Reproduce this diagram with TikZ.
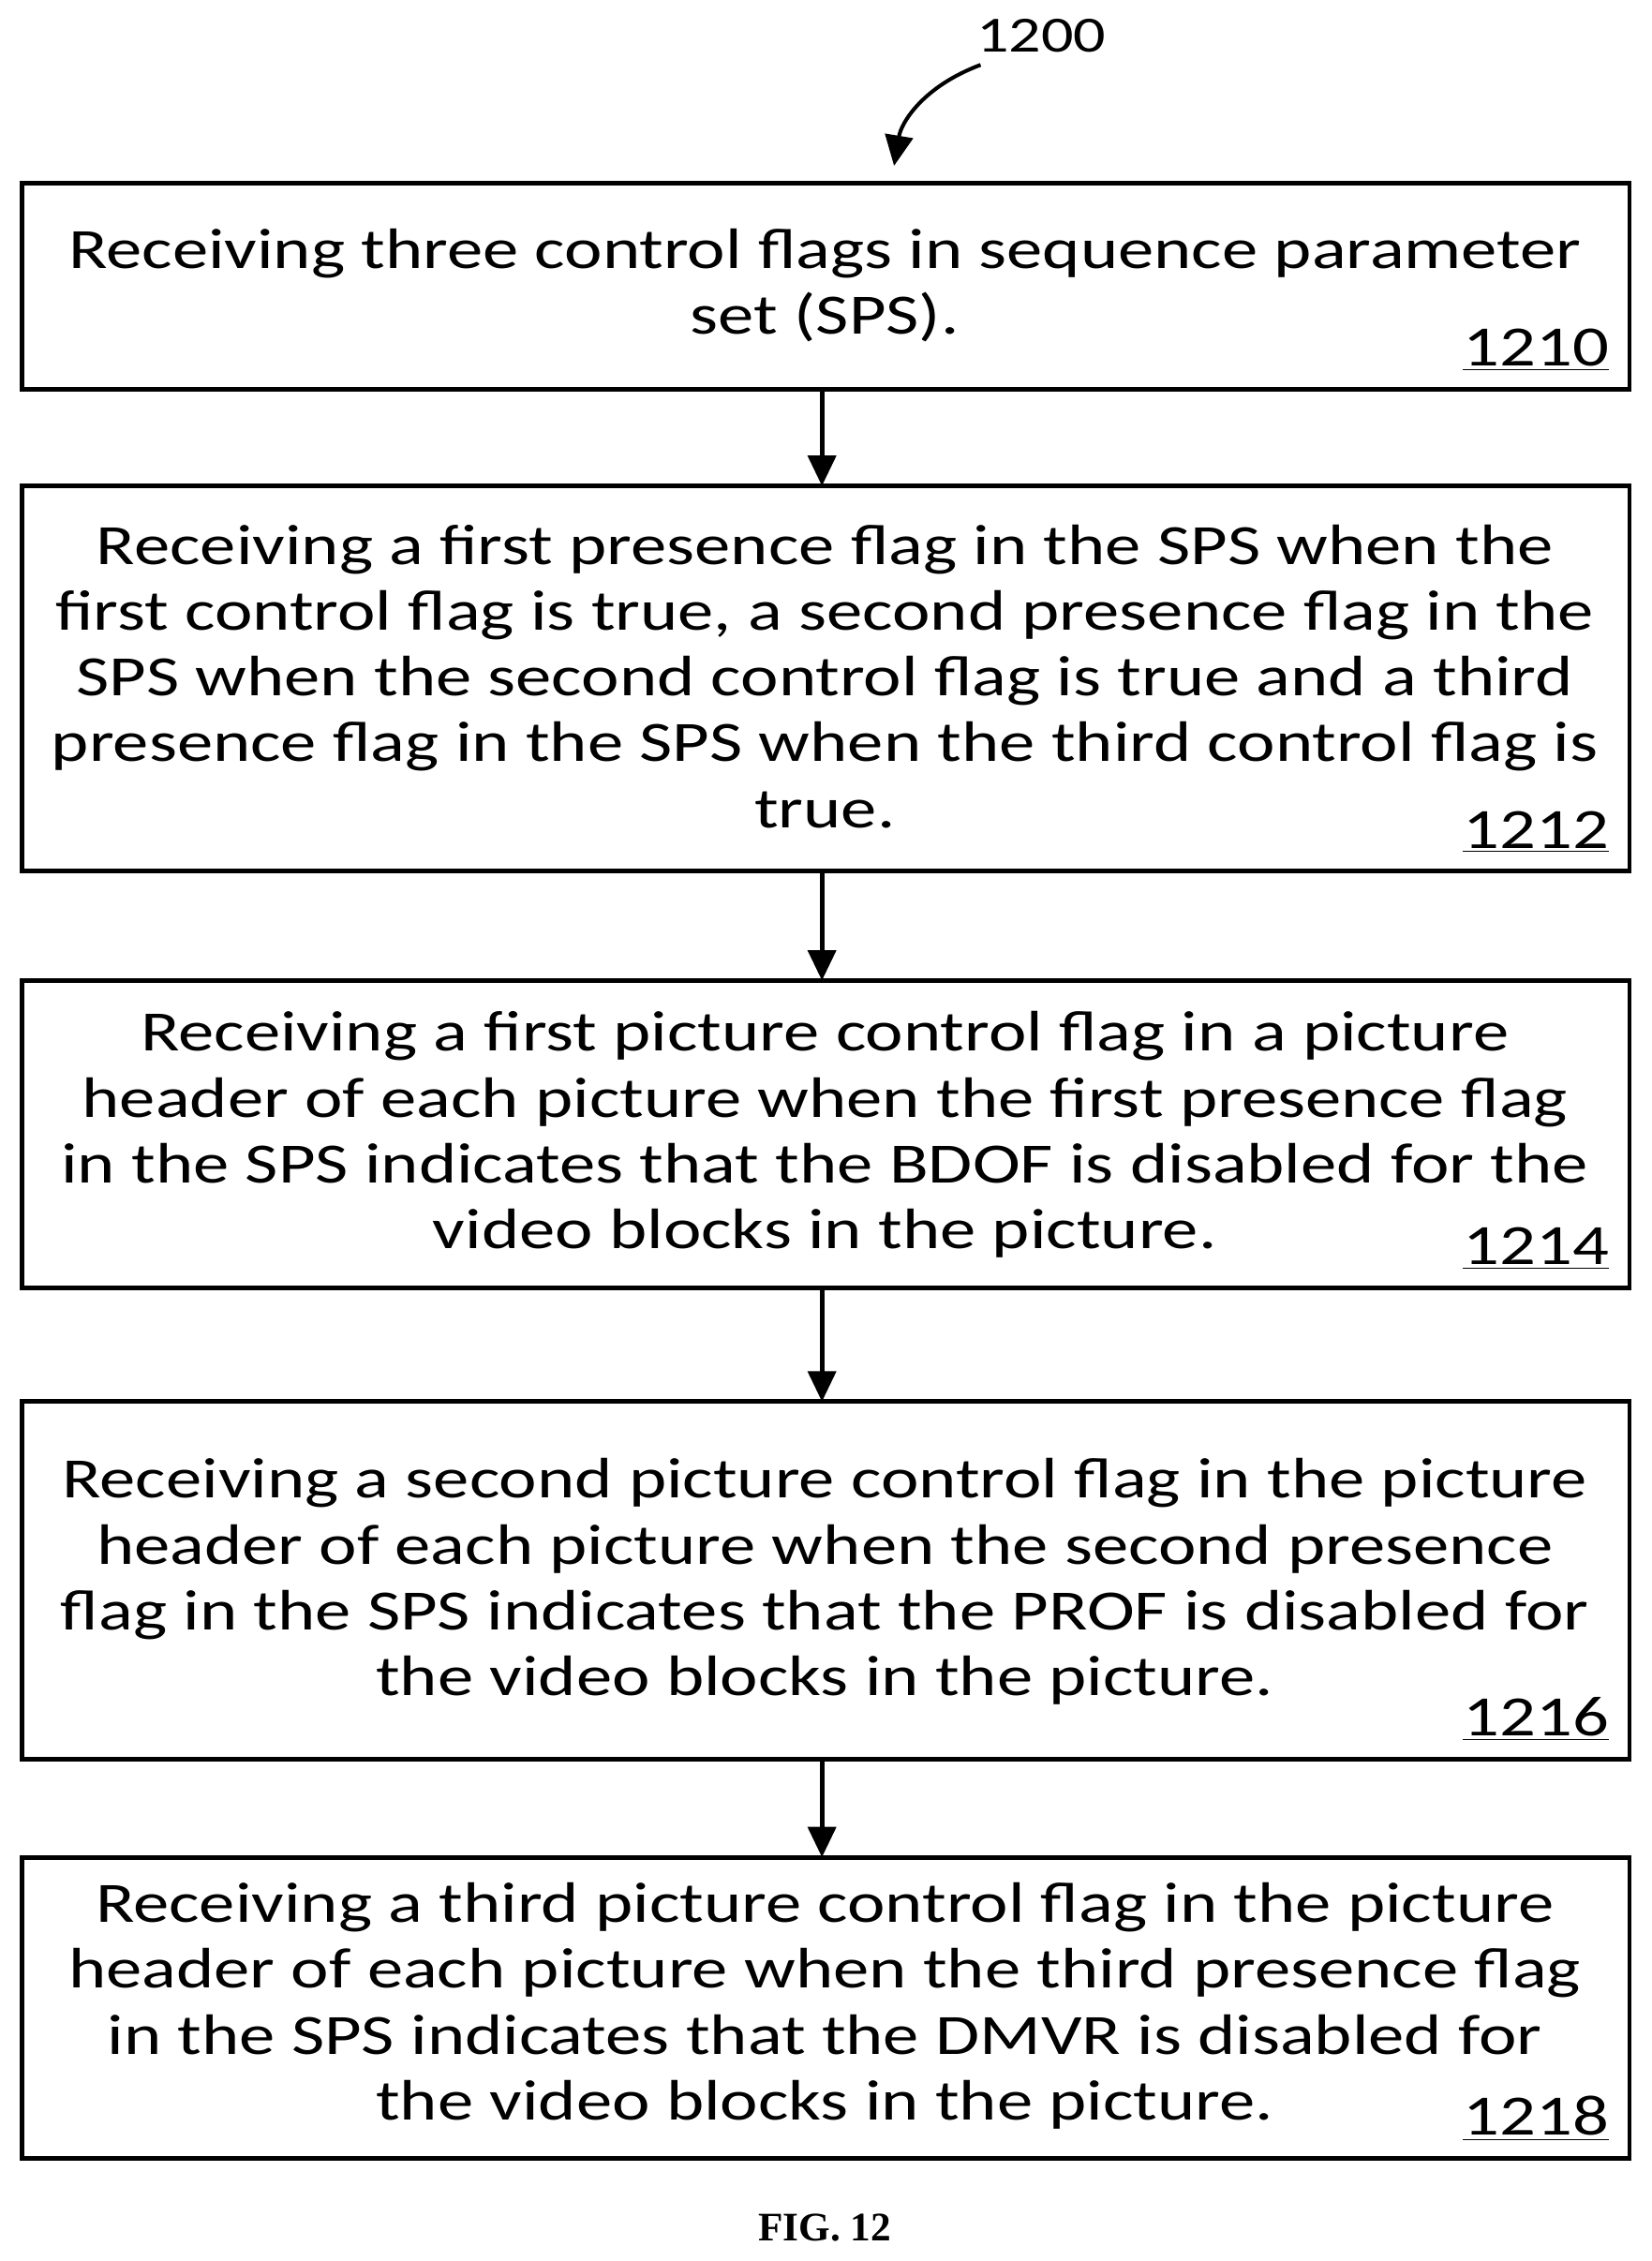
\documentclass[tikz,border=0pt]{standalone}
\usepackage{fontspec}
\setmainfont{Carlito}[FakeStretch=1.26]
\usetikzlibrary{arrows.meta}
\begin{document}
\begin{tikzpicture}[x=0.02cm,y=-0.02cm,
  stepbox/.style={draw,line width=1.8pt},
  txt/.style={align=center,font=\fontsize{22.5}{26}\selectfont,inner sep=0},
  lbl/.style={anchor=south east,font=\fontsize{22.5}{26}\selectfont,inner sep=0},
  arr/.style={-{Triangle[length=12pt,width=11pt]},line width=1.8pt}]
\useasboundingbox (0,0) rectangle (1145,1568);
\draw[stepbox] (15,127) rectangle (1130,270);
\draw[stepbox] (15,337) rectangle (1130,604);
\draw[stepbox] (15,680) rectangle (1130,893);
\draw[stepbox] (15,972) rectangle (1130,1220);
\draw[stepbox] (15,1288) rectangle (1130,1497);
\node[txt] (t1) at (572,198) {Receiving three control flags in sequence parameter\\set (SPS).};
\node[txt] (t2) at (572,469) {Receiving a first presence flag in the SPS when the\\first control flag is true, a second presence flag in the\\SPS when the second control flag is true and a third\\presence flag in the SPS when the third control flag is\\true.};
\node[txt] (t3) at (572,787) {Receiving a first picture control flag in a picture\\header of each picture when the first presence flag\\in the SPS indicates that the BDOF is disabled for the\\video blocks in the picture.};
\node[txt] (t4) at (572,1097) {Receiving a second picture control flag in the picture\\header of each picture when the second presence\\flag in the SPS indicates that the PROF is disabled for\\the video blocks in the picture.};
\node[txt] (t5) at (572,1391) {Receiving a third picture control flag in the picture\\header of each picture when the third presence flag\\in the SPS indicates that the DMVR is disabled for\\the video blocks in the picture.};
\node[lbl] (l1) at (1116,258) {\underline{1210}};
\node[lbl] (l2) at (1116,592) {\underline{1212}};
\node[lbl] (l3) at (1116,881) {\underline{1214}};
\node[lbl] (l4) at (1116,1208) {\underline{1216}};
\node[lbl] (l5) at (1116,1485) {\underline{1218}};
\coordinate (a1) at (570,270); \coordinate (a1e) at (570,337);
\coordinate (a2) at (570,604); \coordinate (a2e) at (570,680);
\coordinate (a3) at (570,893); \coordinate (a3e) at (570,972);
\coordinate (a4) at (570,1220); \coordinate (a4e) at (570,1288);
\draw[arr] (a1) -- (a1e);
\draw[arr] (a2) -- (a2e);
\draw[arr] (a3) -- (a3e);
\draw[arr] (a4) -- (a4e);
\node[font=\fontsize{20}{24}\selectfont,inner sep=0] (n1200) at (722,25) {1200};
\coordinate (c1) at (680,45); \coordinate (c2) at (620,115);
\draw[arr,line width=1.5pt] (c1) .. controls (640,60) and (625,85) .. (c2);
\node[font=\fontspec{Liberation Serif}\bfseries\fontsize{16}{18}\selectfont] (fig) at (572,1545) {FIG. 12};
\end{tikzpicture}
\end{document}
